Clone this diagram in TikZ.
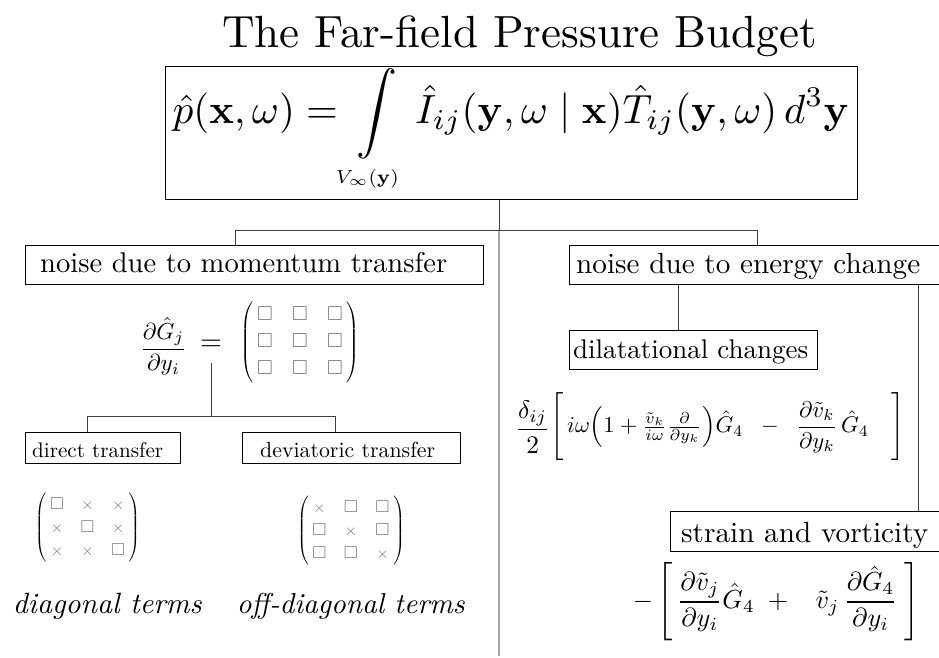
\documentclass[tikz,border=0pt]{standalone}
\usepackage{amsmath,amssymb}
\newcommand{\mysq}{{\color{black!55}\scalebox{1.35}{$\square$}}}
\newcommand{\mycx}{{\color{black!55}\scalebox{1.2}{$\times$}}}
\newcommand{\mymat}[9]{{\arraycolsep=6.5pt\renewcommand{\arraystretch}{1.5}\left(\;\begin{matrix}#1&#2&#3\\#4&#5&#6\\#7&#8&#9\end{matrix}\;\right)}}
\begin{document}
\begin{tikzpicture}[x=1pt,y=-1pt,
  box/.style={draw=black,line width=1.1pt,inner sep=0pt,anchor=north west},
  lbl/.style={inner sep=0pt},
  conn/.style={draw=black!75,line width=0.9pt},
  divider/.style={draw=black!35,line width=1.6pt}]
\useasboundingbox[fill=white] (0,0) rectangle (939,658);

% title
\node[lbl,anchor=base] (title) at (519.5,48) {\resizebox{595pt}{!}{The Far-field Pressure Budget}};

% boxes
\node[box,minimum width=692pt,minimum height=133pt] (main) at (165,66) {};
\node[box,minimum width=458pt,minimum height=39pt] (mom) at (25,245) {};
\node[box,minimum width=380pt,minimum height=39pt] (energy) at (569,245) {};
\node[box,minimum width=248pt,minimum height=39pt] (dil) at (569,330) {};
\node[box,minimum width=155pt,minimum height=31pt] (direct) at (25,432) {};
\node[box,minimum width=218pt,minimum height=31pt] (dev) at (242,432) {};
\node[box,minimum width=280pt,minimum height=40pt] (strain) at (670,511) {};

% box texts
\node[lbl] (eq) at (511,130) {\resizebox{676pt}{!}{$\displaystyle \hat{p}(\mathbf{x},\omega)=\,\int\limits_{\makebox[0pt]{\scalebox{0.66}{$\scriptstyle V_\infty(\mathbf{y})$}}}\;\hat{I}_{ij}(\mathbf{y},\omega\mid\mathbf{x})\hat{T}_{ij}(\mathbf{y},\omega)\,d^3\mathbf{y}$}};
\node[lbl,anchor=base west] (momt) at (40,272) {\resizebox{407pt}{!}{noise due to momentum transfer}};
\node[lbl,anchor=base west] (energyt) at (576,273) {\resizebox{344pt}{!}{noise due to energy change}};
\node[lbl,anchor=base west] (dilt) at (573,358) {\resizebox{235pt}{!}{dilatational changes}};
\node[lbl,anchor=base west] (directt) at (32,457) {\resizebox{131pt}{!}{direct transfer}};
\node[lbl,anchor=base west] (devt) at (260,457) {\resizebox{175pt}{!}{deviatoric transfer}};
\node[lbl,anchor=base west] (straint) at (681,542) {\resizebox{247pt}{!}{strain and vorticity}};

% formulas
\node[lbl] (gradf) at (163.5,346.5) {\resizebox{47pt}{!}{$\dfrac{\partial\hat{G}_j}{\partial y_i}$}};
\node[lbl] (gradeq) at (211,345) {\resizebox{22pt}{!}{$=$}};
\node[lbl] (gradm) at (300,342.5) {\resizebox*{120pt}{81pt}{$\mymat{\mysq}{\mysq}{\mysq}{\mysq}{\mysq}{\mysq}{\mysq}{\mysq}{\mysq}$}};
\node[lbl] (diagm) at (87.5,527.5) {\resizebox*{105pt}{69pt}{$\mymat{\mysq}{\mycx}{\mycx}{\mycx}{\mysq}{\mycx}{\mycx}{\mycx}{\mysq}$}};
\node[lbl] (offm) at (351,530.5) {\resizebox*{108pt}{69pt}{$\mymat{\mycx}{\mysq}{\mysq}{\mysq}{\mycx}{\mysq}{\mysq}{\mysq}{\mycx}$}};
\node[lbl,anchor=base] (diagt) at (107.5,613) {\resizebox{189pt}{!}{\textit{diagonal terms}}};
\node[lbl,anchor=base] (offt) at (351,613) {\resizebox{228pt}{!}{\textit{off-diagonal terms}}};
\node[lbl] (dilf) at (710,427) {\resizebox{390pt}{!}{$\vcenter{\hbox{\scalebox{1.12}{$\dfrac{\delta_{ij}}{2}$}}}\Biggl[\,i\omega\Bigl(1+\frac{\tilde{v}_k}{i\omega}\frac{\partial}{\partial y_k}\Bigr)\hat{G}_4\;\;-\;\;\dfrac{\partial\tilde{v}_k}{\partial y_k}\,\hat{G}_4\quad\Biggr]$}};
\node[lbl] (strainf) at (776.5,602) {\resizebox{287pt}{!}{${-}\,\Biggl[\,\dfrac{\partial\tilde{v}_j}{\partial y_i}\hat{G}_4\;+\;\;\;\tilde{v}_j\,\dfrac{\partial\hat{G}_4}{\partial y_i}\;\Biggr]$}};

% junction coordinates
\coordinate (j0) at (499,230);
\coordinate (jL) at (235,230);
\coordinate (jR) at (757,230);
\coordinate (bot) at (499,656);
\coordinate (g0) at (211,363);
\coordinate (gj) at (211,416);
\coordinate (gL) at (87,416);
\coordinate (gR) at (335,416);
\coordinate (eA) at (678,300);
\coordinate (eB) at (918,300);

% connectors
\draw[divider] (j0) -- (bot);
\draw[conn] (main.south -| j0) -- (j0);
\draw[conn] (jL) -- (jR);
\draw[conn] (jL) -- (jL |- mom.north);
\draw[conn] (jR) -- (jR |- energy.north);
\draw[conn] (g0) -- (gj);
\draw[conn] (gL) -- (gR);
\draw[conn] (gL) -- (gL |- direct.north);
\draw[conn] (gR) -- (gR |- dev.north);
\draw[conn] (energy.south -| eA) -- (dil.north -| eA);
\draw[conn] (energy.south -| eB) -- (strain.north -| eB);
\end{tikzpicture}
\end{document}
